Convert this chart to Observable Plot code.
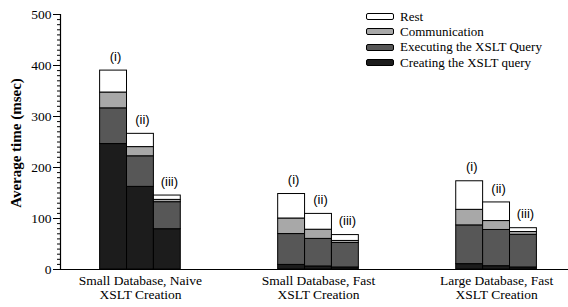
<!DOCTYPE html>
<html>
<head>
<meta charset="utf-8">
<script src="https://cdn.jsdelivr.net/npm/d3@7"></script>
<script src="https://cdn.jsdelivr.net/npm/@observablehq/plot@0.6"></script>
<style>
  html, body { margin: 0; padding: 0; background: #fff; }
  #wrap { position: relative; width: 568px; height: 307px; }
  #wrap svg text { font-family: "Liberation Serif", "Times New Roman", serif; }
  #wrap svg g.sanslab text { font-family: "Liberation Sans", Arial, sans-serif; }
  #legend { position: absolute; left: 366px; top: 9px; font-family: "Liberation Serif", "Times New Roman", serif; font-size: 13px; color: #000; }
  .row { display: flex; align-items: center; height: 15.3px; }
  .sw { width: 26px; height: 5px; border: 1px solid #000; border-radius: 2px; margin-right: 6px; }
</style>
</head>
<body>
<div id="wrap"><div id="legend"></div></div>
<script>
// ---- data ----
const groups = ["Small Database, Naive\nXSLT Creation", "Small Database, Fast\nXSLT Creation", "Large Database, Fast\nXSLT Creation"];
const variants = ["(i)", "(ii)", "(iii)"];
const series = ["Creating the XSLT query", "Executing the XSLT Query", "Communication", "Rest"];
// values per bar: G1(i),(ii),(iii), G2(i),(ii),(iii), G3(i),(ii),(iii)
const creating  = [246, 162, 79, 9, 6, 4, 10.5, 6.5, 4];
const executing = [70, 60, 53, 60.5, 54, 48, 76, 71, 64];
const communication = [31, 18, 4.5, 30.5, 18, 4, 30.5, 17.5, 5.5];
const rest = [43, 26, 8.5, 48, 31, 11.5, 56, 36.5, 7.5];
const yTicks = [0, 100, 200, 300, 400, 500];
const colors = ["#1c1c1c", "#575757", "#a8a8a8", "#ffffff"];

// ---- layout ----
const serifFont = "'Liberation Serif', 'Times New Roman', serif";
const sansFont = "'Liberation Sans', Arial, sans-serif";
const barW = 0.151; // bar width in group-spacing units
const seriesValues = [creating, executing, communication, rest];
const rows = [];
const totals = [];
for (let b = 0; b < creating.length; b++) {
  const g = Math.floor(b / 3), v = b % 3;
  const x1 = g + (v - 1.5) * barW, x2 = x1 + barW;
  let acc = 0;
  series.forEach((s, si) => {
    const val = seriesValues[si][b];
    rows.push({x1, x2, y1: acc, y2: acc + val, series: s});
    acc += val;
  });
  totals.push({x: (x1 + x2) / 2, y: acc, label: variants[v]});
}

const chart = Plot.plot({
  width: 568,
  height: 307,
  marginLeft: 60,
  marginRight: 0,
  marginTop: 14,
  marginBottom: 38,
  style: "font-size: 13.5px; color: #000; background: #fff; overflow: visible;",
  x: {domain: [-0.449, 2.404], axis: null},
  y: {domain: [0, 500], axis: null},
  color: {domain: series, range: colors},
  marks: [
    Plot.rect(rows, {x1: "x1", x2: "x2", y1: "y1", y2: "y2", fill: "series", stroke: "#000", strokeWidth: 1}),
    Plot.text(totals, {x: "x", y: "y", text: "label", dy: -14, dx: 2, fontFamily: sansFont, fontSize: 13, fill: "#000", className: "sanslab"}),
    Plot.axisY({ticks: d3.range(0, 501, 10), tickSize: 3, text: null, label: null, stroke: "#000"}),
    Plot.axisY({ticks: yTicks, tickSize: 7, tickPadding: 2, label: null, stroke: "#000", fill: "#000", fontSize: 13.5, fontFamily: serifFont}),
    Plot.ruleY([0], {stroke: "#000", strokeWidth: 1.2}),
    Plot.ruleX([-0.449], {y1: 0, y2: 500, stroke: "#000", strokeWidth: 1.2}),
    Plot.text(groups, {x: (d, i) => i, frameAnchor: "bottom", dy: 5, lineAnchor: "top", lineHeight: 1.08, fontSize: 13.5, fontFamily: serifFont, fill: "#000"}),
    Plot.text(["Average time (msec)"], {frameAnchor: "left", textAnchor: "middle", lineAnchor: "middle", dx: -44, dy: 1, rotate: -90, fontWeight: "bold", fontSize: 15, fontFamily: serifFont, fill: "#000"})
  ]
});
document.getElementById("wrap").prepend(chart);

// legend (top to bottom: Rest, Communication, Executing, Creating)
const legend = document.getElementById("legend");
series.slice().reverse().forEach(s => {
  const i = series.indexOf(s);
  const row = document.createElement("div");
  row.className = "row";
  const sw = document.createElement("div");
  sw.className = "sw";
  sw.style.background = colors[i];
  const t = document.createElement("span");
  t.textContent = s;
  row.append(sw, t);
  legend.append(row);
});
</script>
</body>
</html>
